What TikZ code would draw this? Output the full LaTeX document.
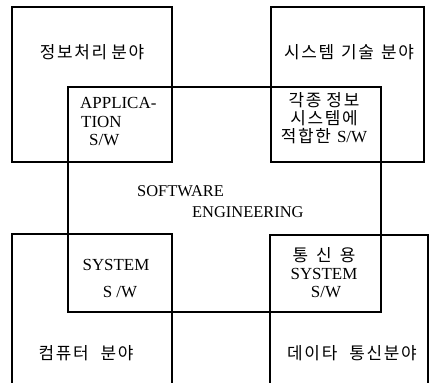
\documentclass[tikz,border=0pt]{standalone}
\usepackage{fontspec}
\setmainfont{Liberation Serif}
\newfontfamily\kr[LetterSpace=10]{Noto Sans CJK KR}
\newcommand\ws[1]{\hspace*{#1bp}}
\begin{document}
\begin{tikzpicture}[x=1bp,y=-1bp,
  frame/.style={line width=1.3bp, draw=black},
  kt/.style={font=\kr\fontsize{17}{20}\selectfont, inner sep=0pt},
  et/.style={font=\fontsize{17}{20}\selectfont, inner sep=0pt},
  st/.style={font=\fontsize{16.5}{19}\selectfont, inner sep=0pt}]
\useasboundingbox (0,0) rectangle (431,383);
% frames
\draw[frame] (12,7) rectangle (172,162);
\draw[frame] (271,7) rectangle (424,162);
\draw[frame] (68,87) rectangle (381,312);
\draw[frame] (12,383) -- (12,234) -- (172,234) -- (172,383);
\draw[frame] (270,383) -- (270,235) -- (428,235) -- (428,383);
% field labels
\node[kt] (f1) at (92,52) {정보처리\ws{4}분야};
\node[kt] (f2) at (349,52) {시스템\ws{7}기술\ws{7}분야};
\node[kt] (f3) at (86,353) {컴퓨터\ws{12}분야};
\node[kt] (f4) at (352,353) {데이타\ws{12}통신분야};
% application
\node[et, anchor=west] (a1) at (80,103) {APPLICA-};
\node[et, anchor=west] (a2) at (81,122) {TION};
\node[et, anchor=west] (a3) at (89,140) {S/W};
% various info systems
\node[kt] (b1) at (324,100) {각종\ws{5}정보};
\node[kt] (b2) at (324,118) {시스템에};
\node[kt] (b3) at (324,136) {적합한\ws{6}{\rmfamily\fontsize{17}{20}\selectfont S/W}};
% software engineering
\node[st, anchor=west] (s1) at (137,191) {SOFTWARE};
\node[st, anchor=west] (s2) at (192,212) {ENGINEERING};
% system sw
\node[et] (c1) at (116,265) {SYSTEM};
\node[et] (c2) at (120,292) {S /W};
% comm
\node[kt] (d1) at (324,255) {통\ws{8}신\ws{8}용};
\node[et] (d2) at (324,274) {SYSTEM};
\node[et] (d3) at (326,292) {S/W};
\end{tikzpicture}
\end{document}
